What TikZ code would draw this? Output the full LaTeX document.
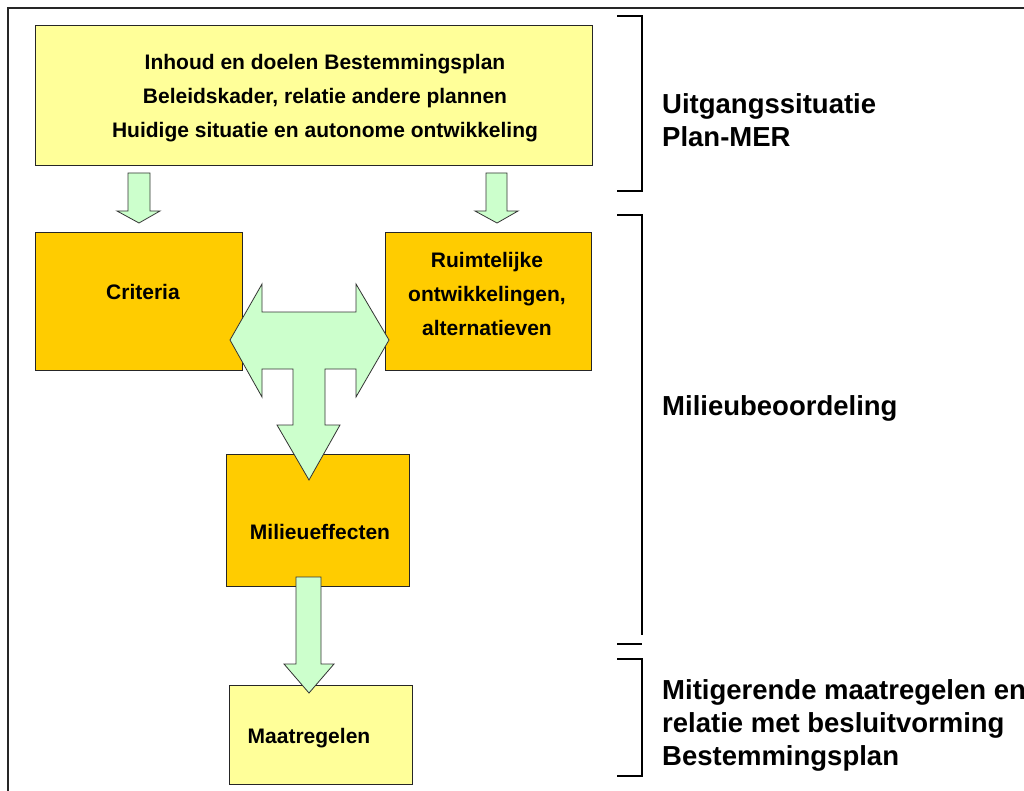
\documentclass[tikz,border=0pt]{standalone}
\usepackage{fontspec}
\setmainfont{Liberation Sans}
\definecolor{lightyel}{HTML}{FFFF99}
\definecolor{gold}{HTML}{FFCC00}
\definecolor{mint}{HTML}{CCFFCC}
\tikzset{
  boxbase/.style={draw=black!85, line width=0.9pt, inner sep=0pt, font=\fontsize{21}{34}\selectfont\bfseries, align=center},
  yelbox/.style={boxbase, fill=lightyel},
  orbox/.style={boxbase, fill=gold},
  blockarrow/.style={draw=black!80, line width=0.8pt, fill=mint, line join=miter},
  bracket/.style={draw=black, line width=2.6pt},
  sidelabel/.style={anchor=west, inner sep=0pt, align=left, font=\fontsize{27.5}{33}\selectfont\bfseries}
}
\begin{document}
\begin{tikzpicture}[x=1pt,y=-1pt]
\clip (0,0) rectangle (1024,791);
\fill[white] (0,0) rectangle (1024,791);
% outer frame
\draw[black!85, line width=2.2pt] (8,8) rectangle (1060,830);

% boxes
\node[yelbox, minimum width=557pt, minimum height=140pt] (top) at (313.5,95) {};
\node[font=\fontsize{21}{34}\selectfont\bfseries, align=center, inner sep=0pt] (toptext) at (325,98) {Inhoud en doelen Bestemmingsplan\\Beleidskader, relatie andere plannen\\Huidige situatie en autonome ontwikkeling};
\node[orbox, minimum width=207pt, minimum height=138pt] (crit) at (138.5,301) {};
\node[font=\fontsize{21}{34}\selectfont\bfseries, inner sep=0pt] (crittext) at (143,292) {Criteria};
\node[orbox, minimum width=206pt, minimum height=138pt] (ruim) at (488,301) {};
\node[font=\fontsize{21}{34}\selectfont\bfseries, align=center, inner sep=0pt] (ruimtext) at (487,294) {Ruimtelijke\\ontwikkelingen,\\alternatieven};
\node[orbox, minimum width=183pt, minimum height=132pt] (mil) at (317.5,520) {};
\node[font=\fontsize{21}{34}\selectfont\bfseries, inner sep=0pt] (miltext) at (320,532) {Milieueffecten};
\node[yelbox, minimum width=183pt, minimum height=99pt] (maat) at (320.5,734.5) {};
\node[font=\fontsize{21}{34}\selectfont\bfseries, inner sep=0pt] (maattext) at (309,738) {Maatregelen};

% small down arrows
\draw[blockarrow] (128,173) -- (150,173) -- (150,211) -- (160,211) -- (139,223) -- (117,211) -- (128,211) -- cycle;
\draw[blockarrow] (486,173) -- (507,173) -- (507,211) -- (518,211) -- (497,223) -- (475,211) -- (486,211) -- cycle;

% T-shaped arrow
\draw[blockarrow] (230,340) -- (262,284) -- (262,312) -- (356,312) -- (356,284) -- (389,340)
  -- (356,397) -- (356,369) -- (325,369) -- (325,425) -- (340,425) -- (309,480)
  -- (277,425) -- (293,425) -- (293,369) -- (262,369) -- (262,397) -- cycle;

% bottom arrow
\draw[blockarrow] (296,577) -- (321,577) -- (321,664) -- (334,664) -- (309,693) -- (284,664) -- (296,664) -- cycle;

% brackets
\draw[bracket] (617,16) -- (642,16) -- (642,191) -- (617,191);
\draw[bracket] (617,215) -- (642,215) -- (642,635);
\draw[bracket] (617,644) -- (642,644);
\draw[bracket] (617,659) -- (642,659) -- (642,776) -- (617,776);

% side labels
\node[sidelabel] (lab1) at (662,120) {Uitgangssituatie\\Plan-MER};
\node[sidelabel] (lab2) at (662,408) {Milieubeoordeling};
\node[sidelabel] (lab3) at (662,725) {Mitigerende maatregelen en\\relatie met besluitvorming\\Bestemmingsplan};
\end{tikzpicture}
\end{document}
